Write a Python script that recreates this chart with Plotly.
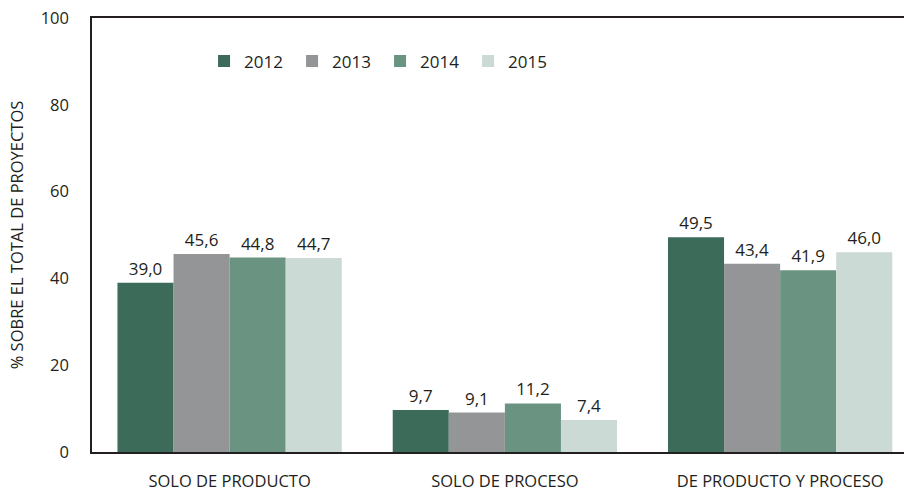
import plotly.graph_objects as go

categories = ["SOLO DE PRODUCTO", "SOLO DE PROCESO", "DE PRODUCTO Y PROCESO"]
years = ["2012", "2013", "2014", "2015"]
values = {
    "2012": [39.0, 9.7, 49.5],
    "2013": [45.6, 9.1, 43.4],
    "2014": [44.8, 11.2, 41.9],
    "2015": [44.7, 7.4, 46.0],
}
colors = {"2012": "#3d6b5a", "2013": "#949597", "2014": "#6a9481", "2015": "#cbdad4"}

FONT = "Open Sans"
TXT = "#231f20"
fig = go.Figure()
for y in years:
    fig.add_trace(go.Bar(
        x=categories, y=values[y], name=y,
        marker=dict(color=colors[y], line=dict(width=0)),
        text=[f"{v:.1f}".replace(".", ",") for v in values[y]],
        textposition="outside", cliponaxis=False,
        textfont=dict(family=FONT, size=17, color=TXT),
    ))

fig.update_layout(
    width=904, height=491,
    margin=dict(l=92, r=0, t=18, b=39),
    paper_bgcolor="white", plot_bgcolor="white",
    barmode="group", bargap=0.185, bargroupgap=0,
    font=dict(family=FONT, size=16, color=TXT),
    legend=dict(orientation="h", x=0.138, y=0.9, xanchor="left", yanchor="middle",
                font=dict(family=FONT, size=17, color=TXT),
                entrywidth=43, entrywidthmode="pixels", bgcolor="rgba(0,0,0,0)"),
    xaxis=dict(range=[-0.5, 2.45], showline=True, linecolor=TXT, linewidth=1.5,
               mirror=True, ticks="", showgrid=False,
               tickfont=dict(family=FONT, size=16.5, color=TXT), ticklabelstandoff=13),
    yaxis=dict(range=[0, 100], dtick=20, showline=True, linecolor=TXT, linewidth=1.5,
               showgrid=False, zeroline=False, ticks="",
               tickfont=dict(family=FONT, size=16.5, color=TXT), ticklabelstandoff=18,
               title=dict(text="% SOBRE EL TOTAL DE PROYECTOS", standoff=13,
                          font=dict(family=FONT, size=16.5, color=TXT))),
)
fig.write_html("out.html")
